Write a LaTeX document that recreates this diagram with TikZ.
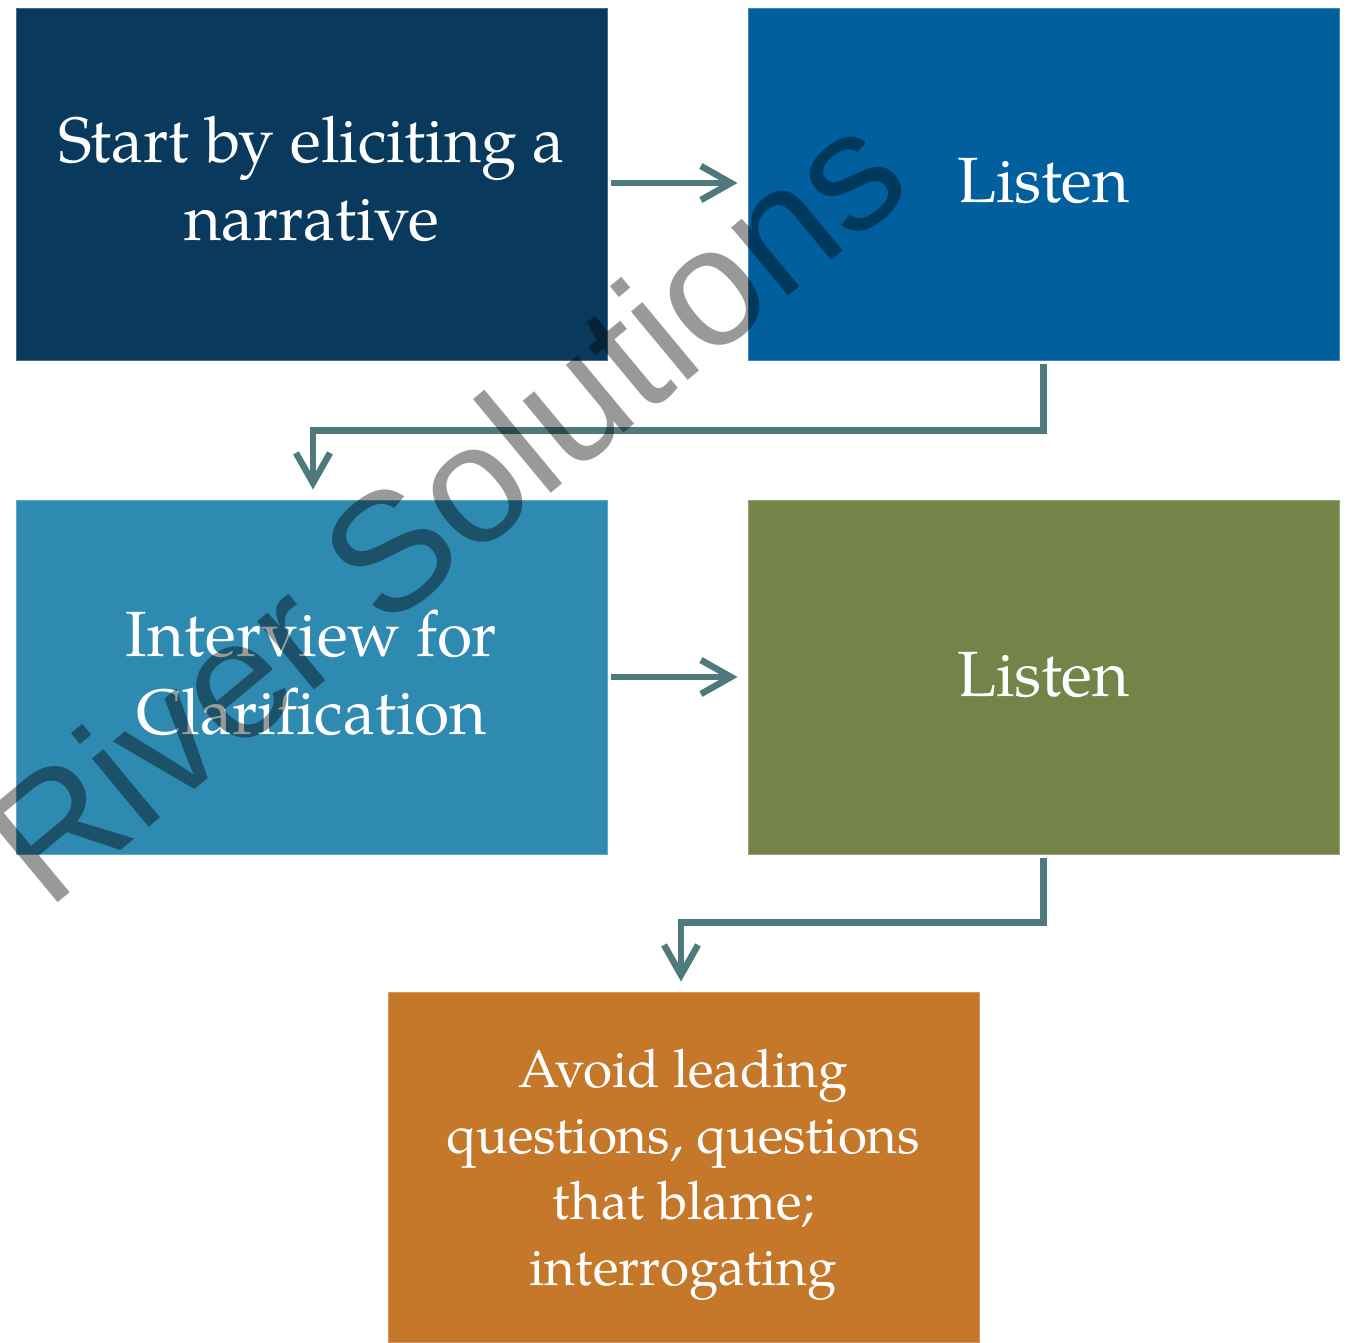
\documentclass[tikz,border=0pt]{standalone}
\usepackage{fontspec}
\setmainfont{TeX Gyre Pagella}
\newfontfamily\wmfont{Liberation Sans}
\usetikzlibrary{arrows.meta}
\definecolor{cA}{HTML}{093A5D}
\definecolor{cB}{HTML}{015F9D}
\definecolor{cC}{HTML}{2E8AB1}
\definecolor{cD}{HTML}{748449}
\definecolor{cE}{HTML}{C5772A}
\definecolor{arr}{HTML}{4E7A7D}
\tikzset{
  box/.style={rectangle, inner sep=0pt, minimum width=591pt, line width=1pt},
  txt/.style={inner sep=0pt, text=white, align=center},
  bigtxt/.style={txt, font=\fontsize{64}{78}\selectfont},
  smalltxt/.style={txt, font=\fontsize{53}{66}\selectfont},
  flow/.style={draw=arr, line width=6.5pt, -{Straight Barb[length=30pt,width=34pt]}},
}
\begin{document}
\begin{tikzpicture}[x=1pt,y=-1pt]
\useasboundingbox (0,0) rectangle (1351,1342);
\node[box, fill=cA, draw=cA!75!white, minimum height=352pt] (b1) at (311.5,184) {};
\node[box, fill=cB, draw=cB!75!white, minimum height=352pt] (b2) at (1043.5,184) {};
\node[box, fill=cC, draw=cC!75!white, minimum height=354pt] (b3) at (311.5,677) {};
\node[box, fill=cD, draw=cD!75!white, minimum height=354pt] (b4) at (1043.5,677) {};
\node[box, fill=cE, draw=cE!75!white, minimum height=350pt] (b5) at (683.5,1167) {};
\node[bigtxt, yshift=5pt] (t1) at (b1) {Start by eliciting a\\narrative};
\node[bigtxt, yshift=3pt] (t2) at (b2) {Listen};
\node[bigtxt, yshift=4pt] (t3) at (b3) {Interview for\\Clarification};
\node[bigtxt, yshift=2pt] (t4) at (b4) {Listen};
\node[smalltxt, yshift=-8pt] (t5) at (b5) {Avoid leading\\questions, questions\\that blame;\\interrogating};
\draw[flow] ([xshift=3pt,yshift=1pt]b1.east) -- ([xshift=-10pt,yshift=1pt]b2.west);
\draw[flow] ([xshift=3pt]b3.east) -- ([xshift=-10pt]b4.west);
\draw[flow, line cap=butt] ([yshift=-3pt]b2.south) -- ++(0,67) -| ([xshift=1.5pt,yshift=10pt]b3.north);
\draw[flow, line cap=butt] ([yshift=-3pt]b4.south) -- ++(0,65) -| ([xshift=-2.5pt,yshift=10pt]b5.north);
\coordinate (wm) at (47,912);
\node[anchor=base west, rotate=39.7, inner sep=0pt, text=black, text opacity=0.4, font=\wmfont\fontsize{168}{168}\selectfont] (mark) at (wm) {River Solutions};
\end{tikzpicture}
\end{document}
